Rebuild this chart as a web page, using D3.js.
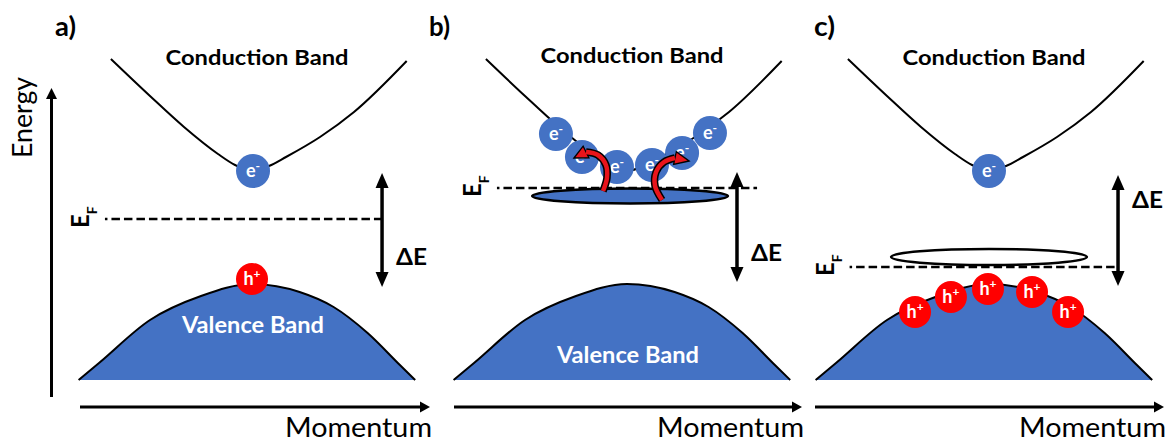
<!DOCTYPE html>
<html>
<head>
<meta charset="utf-8">
<script src="https://cdn.jsdelivr.net/npm/d3@7/dist/d3.min.js"></script>
<style>
html, body { margin: 0; padding: 0; background: #ffffff; }
svg { display: block; }
</style>
</head>
<body>
<script>
// ================= DATA =================
const panelLabels = ["a)", "b)", "c)"];
const conductionLabel = "Conduction Band";
const valenceLabel = "Valence Band";
const energyLabel = "Energy";
const momentumLabel = "Momentum";
const gapLabel = "ΔE";

// Band shapes: momentum (arb., -1..1) and energy (arb. units), shared by all panels
const cbMomentum = [-0.83, -0.6, -0.4, -0.2, -0.1, 0, 0.1, 0.2, 0.4, 0.6, 0.91];
const cbEnergy   = [321, 284, 253, 226, 215, 209, 214, 223, 243, 268, 319];
const vbMomentum = [-1.02, -0.9, -0.6, -0.3, 0, 0.28, 0.48, 0.68, 0.87, 0.96];
const vbEnergy   = [0, 17, 60, 84, 96, 88, 73, 47, 15, 0];

// Fermi level per panel and its momentum extent
const fermiEnergy = [161, 192, 113];
const fermiStart  = [-0.865, -0.765, -0.82];
const fermiEnd    = [0.765, 0.765, 0.76];

// Band-gap (ΔE) arrows per panel
const gapMomentum = [0.765, 0.647, 0.759];
const gapTop      = [207, 208, 205];
const gapBottom   = [93, 98, 94];

// Electrons per panel
const electronMomentum = [[0.006], [-0.418, -0.265, -0.059, 0.147, 0.324, 0.488], [0]];
const electronEnergy   = [[209], [246, 223, 213, 215, 227, 247], [209]];
// Holes per panel
const holeMomentum = [[0], [], [-0.435, -0.224, -0.006, 0.253, 0.465]];
const holeEnergy   = [[101], [], [68, 83, 91, 88, 68]];

// Localized states (ellipses): panel b filled, panel c empty
const statePanel    = [1, 2];
const stateMomentum = [0.018, 0];
const stateEnergy   = [184, 123];
const stateHalfK    = [0.576, 0.576];
const stateHalfE    = [7.5, 8];
const stateFilled   = [true, false];

// Excitation arrows in panel b (tail -> tip)
const excitationMomentum = [[-0.141, -0.118, -0.124, -0.171, -0.241, -0.312],
                            [0.206, 0.165, 0.171, 0.218, 0.282, 0.365]];
const excitationEnergy   = [[189, 202, 215, 225, 228, 222],
                            [180, 194, 208, 218, 222, 219]];

// ================= LAYOUT =================
const W = 1170, H = 442;
const panelCenter = [252, 627, 989];
const halfWidth = 170;
const momAxisStart = [80, 454, 815];
const momAxisEnd   = [430, 802, 1164];
const momAxisY = 407;
const energyAxisX = 51.5, energyAxisBottom = 397, energyAxisTop = 88;
const panelLabelX = [55, 429, 814];
const cbLabelY = [65, 63, 65];
const vbLabelY = [333, 363, null];
const gapLabelY = [265, 261, 208];

const FONT = "Lato, 'Open Sans', 'Liberation Sans', Arial, sans-serif";
const BLUE = "#4472C4", HOLE_RED = "#FF0000", ARROW_RED = "#E8141B";

const svg = d3.select("body").append("svg").attr("width", W).attr("height", H);

const yE = d3.scaleLinear().domain([0, 330]).range([380, 50]);
const xK = panelCenter.map(c => d3.scaleLinear().domain([-1, 1]).range([c - halfWidth, c + halfWidth]));

function arrow(g, x1, y1, x2, y2, o) {
  const dx = x2 - x1, dy = y2 - y1, L = Math.hypot(dx, dy);
  const ux = dx / L, uy = dy / L;
  const cut = o.len * 0.85;
  g.append("line")
    .attr("x1", o.both ? x1 + ux * cut : x1).attr("y1", o.both ? y1 + uy * cut : y1)
    .attr("x2", x2 - ux * cut).attr("y2", y2 - uy * cut)
    .attr("stroke", "#000").attr("stroke-width", o.w);
  const head = (tx, ty, vx, vy) => {
    const bx = tx - vx * o.len, by = ty - vy * o.len;
    g.append("path")
      .attr("d", `M${tx},${ty}L${bx - vy * o.hw},${by + vx * o.hw}L${bx + vy * o.hw},${by - vx * o.hw}Z`)
      .attr("fill", "#000");
  };
  head(x2, y2, ux, uy);
  if (o.both) head(x1, y1, -ux, -uy);
}

function label(g, str, x, y, o) {
  const t = g.append("text").attr("x", x).attr("y", y)
    .attr("font-family", FONT).attr("font-size", o.size)
    .attr("font-weight", o.bold ? 700 : 400)
    .attr("fill", o.fill || "#000")
    .attr("text-anchor", o.anchor || "start")
    .text(str);
  if (o.len) t.attr("textLength", o.len).attr("lengthAdjust", "spacingAndGlyphs");
  return t;
}

// ---- Energy axis (shared) ----
arrow(svg, energyAxisX, energyAxisBottom, energyAxisX, energyAxisTop, {w: 3, len: 11, hw: 5.5});
label(svg, energyLabel, 0, 0, {size: 26, len: 81})
  .attr("x", null).attr("y", null)
  .attr("transform", "translate(32,158) rotate(-90)");

const cbPts = d3.zip(cbMomentum, cbEnergy);
const vbPts = d3.zip(vbMomentum, vbEnergy);

panelCenter.forEach((c, i) => {
  const g = svg.append("g");
  const x = xK[i];
  const bandCurve = d3.curveMonotoneX;
  const bandLine = d3.line().x(d => x(d[0])).y(d => yE(d[1])).curve(bandCurve);
  const arrowLine = d3.line().x(d => x(d[0])).y(d => yE(d[1])).curve(d3.curveCatmullRom.alpha(0.5));

  // valence band
  g.append("path").datum(vbPts)
    .attr("d", d3.area().x(d => x(d[0])).y0(yE(0)).y1(d => yE(d[1])).curve(bandCurve))
    .attr("fill", BLUE);
  g.append("path").datum(vbPts).attr("d", bandLine)
    .attr("fill", "none").attr("stroke", "#000").attr("stroke-width", 2);

  // conduction band
  g.append("path").datum(cbPts).attr("d", bandLine)
    .attr("fill", "none").attr("stroke", "#000").attr("stroke-width", 2);

  // localized states
  statePanel.forEach((p, j) => {
    if (p !== i) return;
    const cx = x(stateMomentum[j]), cy = yE(stateEnergy[j]);
    g.append("ellipse").attr("cx", cx).attr("cy", cy)
      .attr("rx", x(stateMomentum[j] + stateHalfK[j]) - cx)
      .attr("ry", yE(stateEnergy[j] - stateHalfE[j]) - cy)
      .attr("fill", stateFilled[j] ? BLUE : "#fff")
      .attr("stroke", "#000").attr("stroke-width", 2.5);
  });

  // Fermi level
  const fy = yE(fermiEnergy[i]);
  g.append("line")
    .attr("x1", x(fermiStart[i])).attr("x2", x(fermiEnd[i]))
    .attr("y1", fy).attr("y2", fy)
    .attr("stroke", "#000").attr("stroke-width", 2.3)
    .attr("stroke-dasharray", "8.5,4").attr("stroke-dashoffset", 6);
  const ef = g.append("text")
    .attr("transform", `translate(${x(fermiStart[i]) - 16},${fy + 9}) rotate(-90)`)
    .attr("font-family", FONT).attr("font-weight", 700).attr("fill", "#000");
  ef.append("tspan").attr("font-size", 24).text("E");
  ef.append("tspan").attr("font-size", 14).attr("dy", 8).text("F");

  // band gap arrow
  const gx = x(gapMomentum[i]);
  arrow(g, gx, yE(gapBottom[i]), gx, yE(gapTop[i]), {w: 3.5, len: 15, hw: 6.5, both: true});
  label(g, gapLabel, gx + 14, gapLabelY[i], {size: 23, bold: true, len: 31});

  // electrons
  electronMomentum[i].forEach((k, j) => {
    const cx = x(k), cy = yE(electronEnergy[i][j]);
    g.append("circle").attr("cx", cx).attr("cy", cy).attr("r", 17).attr("fill", BLUE);
    const t = g.append("text").attr("x", cx).attr("y", cy + 6).attr("text-anchor", "middle")
      .attr("font-family", FONT).attr("font-weight", 700).attr("fill", "#fff");
    t.append("tspan").attr("font-size", 18).text("e");
    t.append("tspan").attr("font-size", 12).attr("dy", -7).text("-");
  });

  // holes
  holeMomentum[i].forEach((k, j) => {
    const cx = x(k), cy = yE(holeEnergy[i][j]);
    g.append("circle").attr("cx", cx).attr("cy", cy).attr("r", 16).attr("fill", HOLE_RED);
    const t = g.append("text").attr("x", cx).attr("y", cy + 6).attr("text-anchor", "middle")
      .attr("font-family", FONT).attr("font-weight", 700).attr("fill", "#fff");
    t.append("tspan").attr("font-size", 18).text("h");
    t.append("tspan").attr("font-size", 12).attr("dy", -7).text("+");
  });

  // excitation arrows (panel b)
  if (i === 1) {
    excitationMomentum.forEach((km, j) => {
      const pts = d3.zip(km, excitationEnergy[j]);
      const shaft = pts.slice(0, -1);
      const tip = pts[pts.length - 1], base = shaft[shaft.length - 1];
      const tx = x(tip[0]), ty = yE(tip[1]), bx0 = x(base[0]), by0 = yE(base[1]);
      const L = Math.hypot(tx - bx0, ty - by0), ux = (tx - bx0) / L, uy = (ty - by0) / L;
      const hw = 6.5;
      g.append("path").datum(shaft).attr("d", arrowLine)
        .attr("fill", "none").attr("stroke", "#000").attr("stroke-width", 7.5);
      g.append("path")
        .attr("d", `M${tx},${ty}L${bx0 - uy * hw},${by0 + ux * hw}L${bx0 + uy * hw},${by0 - ux * hw}Z`)
        .attr("fill", ARROW_RED).attr("stroke", "#000").attr("stroke-width", 1.3)
        .attr("stroke-linejoin", "miter");
      g.append("path").datum(shaft).attr("d", arrowLine)
        .attr("fill", "none").attr("stroke", ARROW_RED).attr("stroke-width", 4.5);
    });
  }

  // labels
  label(g, panelLabels[i], panelLabelX[i], 36, {size: 27, bold: true, len: 21});
  label(g, conductionLabel, c + 5, cbLabelY[i], {size: 21.5, bold: true, anchor: "middle", len: 183});
  if (vbLabelY[i] !== null) {
    label(g, valenceLabel, c + 1, vbLabelY[i], {size: 22, bold: true, anchor: "middle", len: 142, fill: "#fff"});
  }

  // momentum axis
  arrow(g, momAxisStart[i], momAxisY, momAxisEnd[i], momAxisY, {w: 3, len: 10, hw: 5.5});
  label(g, momentumLabel, momAxisEnd[i] + 2, 437, {size: 26, anchor: "end", len: 147});
});
</script>
</body>
</html>
